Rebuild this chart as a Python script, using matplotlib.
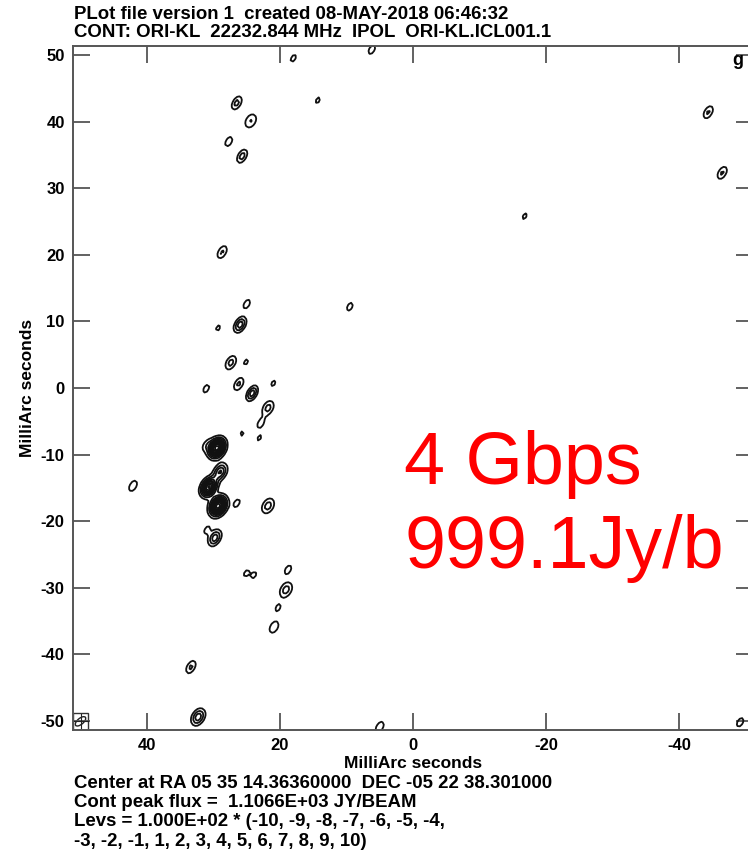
import numpy as np
import matplotlib
matplotlib.use("Agg")
import matplotlib.pyplot as plt
from matplotlib.patches import Rectangle, Ellipse

plt.rcParams['axes.unicode_minus'] = False

# ---- source components (offset in mas, peak in Jy/beam) ----
comp_x = [18.0, 6.2, 14.3, 26.5, 24.4, 27.7, 25.7, 28.7, -44.4, -46.5,
          -16.8, 9.5, 25.0, 26.0, 29.3, 27.4, 25.1, 31.1, 26.2, 24.2,
          21.8, 21.0, 22.9, 25.7, 23.1, 29.5, 31.1, 30.7, 29.0, 29.3,
          26.5, 21.8, 31.0, 29.8, 42.1, 25.1, 23.9, 18.8, 19.1, 20.3,
          20.9, 33.4, 32.3, 5.0, -49.2]
comp_y = [49.5, 50.8, 43.2, 42.8, 40.1, 37.0, 34.8, 20.4, 41.4, 32.3,
          25.8, 12.2, 12.6, 9.5, 9.0, 3.8, 3.9, -0.1, 0.6, -0.8,
          -3.0, 0.7, -5.3, -6.8, -7.5, -9.0, -8.6, -14.9, -12.6, -17.7,
          -17.3, -17.7, -21.3, -22.5, -14.7, -27.8, -28.1, -27.3, -30.3, -33.0,
          -35.9, -41.9, -49.4, -50.9, -50.2]
comp_peak = [130, 150, 120, 250, 210, 160, 260, 220, 220, 220,
             120, 140, 150, 380, 120, 250, 120, 140, 230, 380,
             250, 120, 150, 115, 115, 1100, 140, 950, 420, 1106.6,
             140, 260, 130, 380, 180, 120, 120, 150, 260, 130,
             190, 230, 380, 180, 150]
comp_width = [1.0, 1.0, 1.0, 1.0, 1.3, 1.0, 1.0, 1.0, 1.0, 1.0,
              1.0, 1.0, 1.0, 1.1, 1.0, 1.1, 1.0, 1.0, 1.0, 1.0,
              1.2, 1.0, 1.0, 1.0, 1.0, 1.5, 1.0, 1.4, 1.3, 1.5,
              1.0, 1.3, 1.0, 1.2, 1.0, 1.0, 1.0, 1.0, 1.3, 1.0,
              1.1, 1.0, 1.3, 1.0, 1.0]

levels_base = 100.0
level_mult = [-10, -9, -8, -7, -6, -5, -4, -3, -2, -1, 1, 2, 3, 4, 5, 6, 7, 8, 9, 10]

x_ticks = [40, 20, 0, -20, -40]
y_ticks = [50, 40, 30, 20, 10, 0, -10, -20, -30, -40, -50]

# restoring beam (sigma along major/minor axes, mas; angle on the plot)
beam_sig_major = 0.80
beam_sig_minor = 0.45
beam_angle = np.deg2rad(60.0)

# ---- build the image on a coarse pixel grid ----
step = 0.35
gx = np.arange(-53.0, 53.0 + step, step)
gy = np.arange(-53.0, 53.0 + step, step)
X, Y = np.meshgrid(gx, gy)
U = -X          # RA increases to the left
V = Y
A = U * np.cos(beam_angle) + V * np.sin(beam_angle)
B = -U * np.sin(beam_angle) + V * np.cos(beam_angle)
img = np.zeros_like(X)
for cx, cy, pk, w in zip(comp_x, comp_y, comp_peak, comp_width):
    cu, cv = -cx, cy
    ca = cu * np.cos(beam_angle) + cv * np.sin(beam_angle)
    cb = -cu * np.sin(beam_angle) + cv * np.cos(beam_angle)
    sa = beam_sig_major * (1 + 0.3 * (w - 1))
    sb = beam_sig_minor * w
    img += pk * np.exp(-0.5 * (((A - ca) / sa) ** 2 + ((B - cb) / sb) ** 2))

levels = [levels_base * m for m in level_mult]

# ---- figure ----
W, H = 748, 852
fig = plt.figure(figsize=(W / 100, H / 100), dpi=100)
ax_l, ax_r, ax_t, ax_b = 73, 753, 46, 730
ax = fig.add_axes([ax_l / W, 1 - ax_b / H, (ax_r - ax_l) / W, (ax_b - ax_t) / H])

fam = ['Liberation Sans', 'DejaVu Sans']

neg = [l for l in levels if l < 0]
pos = [l for l in levels if l > 0]
ax.contour(X, Y, img, levels=pos, colors='#111111', linewidths=1.3)
if img.min() < neg[-1]:
    ax.contour(X, Y, img, levels=neg, colors='#111111', linewidths=1.3,
               linestyles='dashed')

ax.set_xlim(51.13, -51.13)
ax.set_ylim(-51.35, 51.35)
ax.set_xticks(x_ticks)
ax.set_yticks(y_ticks)
ax.tick_params(direction='in', length=12.5, width=1.3, color='#555555',
               top=True, right=True, labelsize=12, pad=6)
for lab in ax.get_xticklabels() + ax.get_yticklabels():
    lab.set_fontfamily(fam)
    lab.set_fontweight('bold')
for sp in ax.spines.values():
    sp.set_color('#555555')
    sp.set_linewidth(1.4)

ax.set_xlabel('MilliArc seconds', fontsize=12.5, fontweight='bold',
              family=fam, labelpad=2)
ax.set_ylabel('MilliArc seconds', fontsize=12.5, fontweight='bold',
              family=fam, labelpad=4)

# beam box in the lower-left corner
ax.add_patch(Rectangle((51.13, -51.35), -2.3, 2.6, fill=False,
                       edgecolor='#333333', lw=1.0))
ax.add_patch(Ellipse((50.0, -50.05), 1.9, 0.9, angle=-40,
                     fill=False, edgecolor='#222222', lw=1.0))
ax.plot([51.0, 48.9], [-50.05, -50.05], color='#222222', lw=0.8)
ax.plot([50.0, 50.0], [-51.2, -48.9], color='#222222', lw=0.8)

ax.text(-48.0, 49.2, 'g', fontsize=13, fontweight='bold', family=fam,
        ha='left', va='center', clip_on=False)

# header and footer annotations
def ftext(px, py, s):
    fig.text(px / W, 1 - py / H, s, family=fam, fontweight='bold',
             fontsize=13.4, va='baseline', ha='left')

ftext(74, 19, 'PLot file version 1  created 08-MAY-2018 06:46:32')
ftext(74, 37, 'CONT: ORI-KL  22232.844 MHz  IPOL  ORI-KL.ICL001.1')
ftext(74, 788, 'Center at RA 05 35 14.36360000  DEC -05 22 38.301000')
ftext(74, 807, 'Cont peak flux =  1.1066E+03 JY/BEAM')
ftext(74, 826, 'Levs = 1.000E+02 * (-10, -9, -8, -7, -6, -5, -4,')
ftext(74, 846, '-3, -2, -1, 1, 2, 3, 4, 5, 6, 7, 8, 9, 10)')

# observation note
fig.text(404 / W, 1 - 484 / H, '4 Gbps', color='#ff0000', fontsize=53,
         family=fam, va='baseline', ha='left')
fig.text(404 / W, 1 - 568 / H, '999.1Jy/b', color='#ff0000', fontsize=53,
         family=fam, va='baseline', ha='left')

fig.savefig('out.png', dpi=100)
